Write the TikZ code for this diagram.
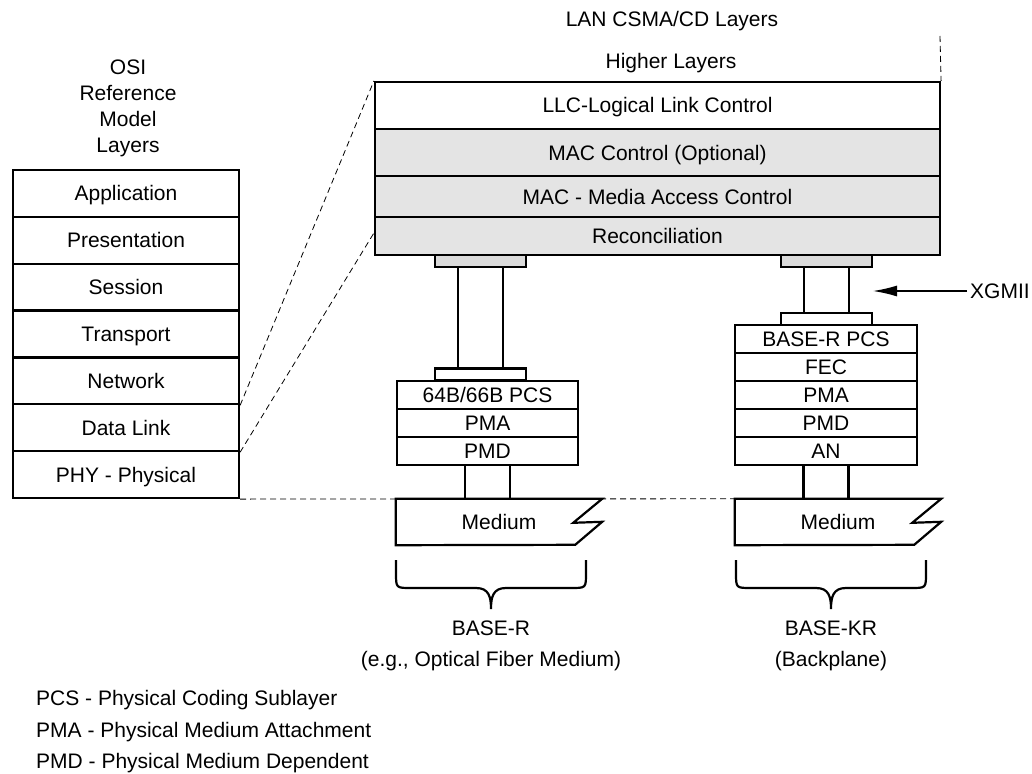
\documentclass[tikz,border=0pt]{standalone}
\usepackage{fontspec}
\setmainfont{Liberation Sans}
\usetikzlibrary{arrows.meta}
\definecolor{layergray}{RGB}{228,228,228}
\definecolor{capgray}{RGB}{218,218,218}
\begin{document}
\begin{tikzpicture}[x=1pt,y=-1pt,
  font=\fontsize{21}{25}\selectfont,
  lbl/.style={inner sep=0pt, text height=15pt, text depth=0pt},
  osirow/.style={lbl, draw, line width=2.2pt, fill=white, minimum width=226pt, minimum height=46.86pt},
  lanrow/.style={lbl, draw, line width=2.2pt, fill=layergray, minimum width=565pt},
  subrow/.style={lbl, draw, line width=2.2pt, fill=white, minimum height=28pt},
  capbox/.style={draw, line width=2.2pt, inner sep=0pt, minimum width=91pt, minimum height=12pt},
  tube/.style={line width=2.2pt},
  dashline/.style={line width=0.8pt, dash pattern=on 6pt off 4pt},
  outline/.style={line width=2.2pt, line join=miter}
]
\useasboundingbox (0,0) rectangle (1032,773);

% titles
\node[lbl] (osi1) at (128,67.5) {OSI};
\node[lbl] (osi2) at (128,93.2) {Reference};
\node[lbl] (osi3) at (128,118.9) {Model};
\node[lbl] (osi4) at (128,144.6) {Layers};
\node[lbl] (lan) at (672,19.5) {LAN CSMA/CD Layers};
\node[lbl] (higher) at (671,61.5) {Higher Layers};

% OSI stack
\node[osirow] (app) at (126,193.43) {Application};
\node[osirow] (pres) at (126,240.29) {Presentation};
\node[osirow] (sess) at (126,287.14) {Session};
\node[osirow] (trans) at (126,334.00) {Transport};
\node[osirow] (net) at (126,380.86) {Network};
\node[osirow] (dl) at (126,427.71) {Data Link};
\node[osirow] (phy) at (126,474.57) {PHY - Physical};

% LAN stack
\node[lanrow, fill=white, minimum height=47pt] (llc) at (657.5,105.5) {LLC-Logical Link Control};
\node[lanrow, minimum height=47pt] (macc) at (657.5,152.5) {MAC Control (Optional)};
\node[lanrow, minimum height=41pt] (mac) at (657.5,196.5) {MAC - Media Access Control};
\node[lanrow, minimum height=38pt] (rec) at (657.5,236) {Reconciliation};

% left PHY (BASE-R)
\node[capbox, fill=capgray] (gcL) at (480.5,261) {};
\node[capbox, fill=white] (wcL) at (480.5,374.5) {};
\draw[tube] ([xshift=-22.5pt]gcL.south) -- ([xshift=-22.5pt]wcL.north);
\draw[tube] ([xshift=22.5pt]gcL.south) -- ([xshift=22.5pt]wcL.north);
\node[subrow, minimum width=181pt] (pcsL) at (487.5,395) {64B/66B PCS};
\node[subrow, minimum width=181pt] (pmaL) at (487.5,423) {PMA};
\node[subrow, minimum width=181pt] (pmdL) at (487.5,451) {PMD};

% right PHY (BASE-KR)
\node[capbox, fill=capgray] (gcR) at (826.5,261) {};
\node[capbox, fill=white] (wcR) at (826.5,319) {};
\draw[tube] ([xshift=-22.5pt]gcR.south) -- ([xshift=-22.5pt]wcR.north);
\draw[tube] ([xshift=22.5pt]gcR.south) -- ([xshift=22.5pt]wcR.north);
\node[subrow, minimum width=182pt] (pcsR) at (826,339) {BASE-R PCS};
\node[subrow, minimum width=182pt] (fec) at (826,367) {FEC};
\node[subrow, minimum width=182pt] (pmaR) at (826,395) {PMA};
\node[subrow, minimum width=182pt] (pmdR) at (826,423) {PMD};
\node[subrow, minimum width=182pt] (an) at (826,451) {AN};

% medium frames
\node[lbl, minimum width=206pt, minimum height=46pt] (med1) at (499,522) {};
\node[lbl, minimum width=206pt, minimum height=46pt] (med2) at (838,522) {};

% dashed guide lines
\draw[dashline] (net.south east) -- (llc.north west);
\draw[dashline] (dl.south east) -- ([yshift=3pt]rec.west);
\draw[dashline] (phy.south east) -- (med2.north west);
\coordinate (vtop) at (940,36);
\draw[dashline] (vtop) -- (llc.north east);

% medium outlines
\draw[outline, fill=white] (med1.north west) -- (med1.north east) -- ++(-29,24) -- ++(29,-1) -- ++(-27,23) -- (med1.south west) -- cycle;
\draw[outline, fill=white] (med2.north west) -- (med2.north east) -- ++(-29,24) -- ++(29,-1) -- ++(-27,23) -- (med2.south west) -- cycle;
\node[lbl] (med1t) at (med1) {Medium};
\node[lbl] (med2t) at (med2) {Medium};

% stubs PMD/AN to medium
\draw[tube] ([xshift=-22.5pt]pmdL.south) -- ([xshift=-22.5pt]pmdL.south |- med1.north);
\draw[tube] ([xshift=22.5pt]pmdL.south) -- ([xshift=22.5pt]pmdL.south |- med1.north);
\draw[tube] ([xshift=-22.5pt]an.south) -- ([xshift=-22.5pt]an.south |- med2.north);
\draw[tube] ([xshift=22.5pt]an.south) -- ([xshift=22.5pt]an.south |- med2.north);

% XGMII
\node[lbl, anchor=west] (xg) at (970,291) {XGMII};
\coordinate (xgtip) at (873,291);
\draw[line width=1.3pt, -{Latex[length=24pt,width=11pt]}] ([xshift=-3pt]xg.west) -- (xgtip);

% braces
\foreach \dx in {0,340}{
  \draw[line width=2.2pt] (396+\dx,560) -- (396+\dx,573) .. controls (396+\dx,588) .. (411+\dx,588) -- (476+\dx,588)
    .. controls (489+\dx,588) and (491+\dx,597) .. (491+\dx,609)
    .. controls (491+\dx,597) and (493+\dx,588) .. (506+\dx,588) -- (571+\dx,588)
    .. controls (586+\dx,588) .. (586+\dx,573) -- (586+\dx,560);
}
\node[lbl] (baser) at (491,628) {BASE-R};
\node[lbl] (baser2) at (491,658.5) {(e.g., Optical Fiber Medium)};
\node[lbl] (basekr) at (831,628) {BASE-KR};
\node[lbl] (basekr2) at (831,658.5) {(Backplane)};

% legend
\node[lbl, anchor=west] (lg1) at (36,698) {PCS - Physical Coding Sublayer};
\node[lbl, anchor=west] (lg2) at (36,729.5) {PMA - Physical Medium Attachment};
\node[lbl, anchor=west] (lg3) at (36,761) {PMD - Physical Medium Dependent};
\end{tikzpicture}
\end{document}
